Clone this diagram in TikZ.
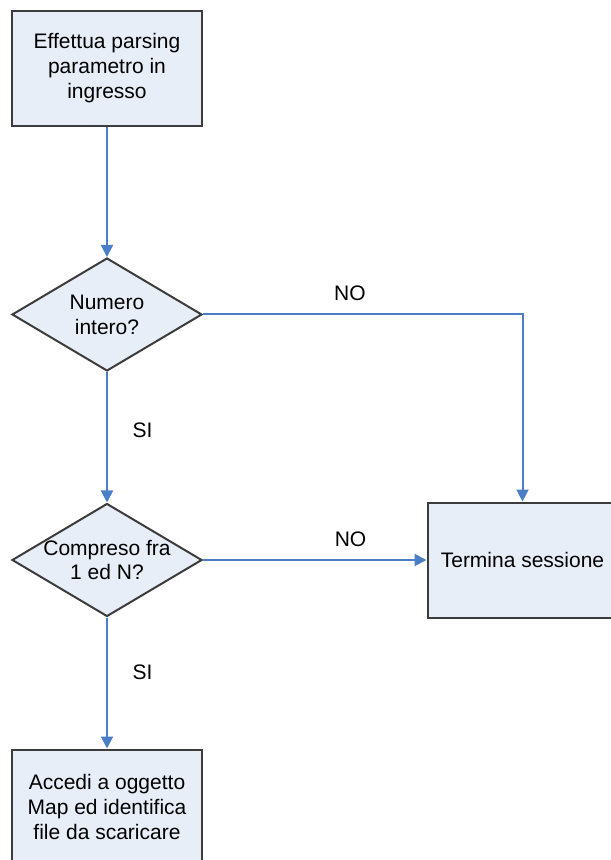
\documentclass[tikz,border=0pt]{standalone}
\usepackage{fontspec}
\setmainfont{Liberation Sans}
\usetikzlibrary{shapes.geometric,arrows.meta}

\definecolor{boxfill}{HTML}{E8EEF8}
\definecolor{boxline}{HTML}{3C3C3C}
\definecolor{freccia}{HTML}{4A7EC6}

\tikzset{
    blocco/.style={draw=boxline, fill=boxfill, line width=1pt, rectangle,
        minimum width=95pt, minimum height=57.5pt, align=center,
        font=\fontsize{10.5}{12.5}\selectfont},
    decisione/.style={draw=boxline, fill=boxfill, line width=1pt, diamond,
        minimum width=95pt, minimum height=56.5pt, inner sep=0pt},
    testo/.style={align=center, font=\fontsize{10.5}{12.5}\selectfont},
    collegamento/.style={draw=freccia, line width=1pt,
        -{Triangle[length=6pt,width=6pt]}}
}

\begin{document}
\begin{tikzpicture}[x=0.5pt, y=-0.5pt]
    \useasboundingbox (0,0) rectangle (610,860);

    % Blocchi del diagramma
    \node[blocco] (parsing) at (107,68.5) {Effettua parsing\\parametro in\\ingresso};

    \node[decisione] (intero) at (107,314.5) {};
    \node[testo] (intero-txt) at (intero) {Numero\\intero?};

    \node[decisione] (compreso) at (107,560) {};
    \node[testo] (compreso-txt) at (compreso) {Compreso fra\\1 ed N?};

    \node[blocco] (termina) at (522.5,560) {Termina sessione};

    \node[blocco] (accedi) at (107,807) {Accedi a oggetto\\Map ed identifica\\file da scaricare};

    % Collegamenti
    \draw[collegamento] (parsing) -- (intero);
    \draw[collegamento] (intero) -- node[testo, right=9pt, pos=0.45] (si1) {SI} (compreso);
    \draw[collegamento] (compreso) -- node[testo, right=9pt, pos=0.42] (si2) {SI} (accedi);
    \draw[collegamento] (intero.east) -| node[testo, above=3pt, pos=0.23] (no1) {NO} (termina.north);
    \draw[collegamento] (compreso.east) -- node[testo, above=3pt, pos=0.66] (no2) {NO} (termina.west);
\end{tikzpicture}
\end{document}
